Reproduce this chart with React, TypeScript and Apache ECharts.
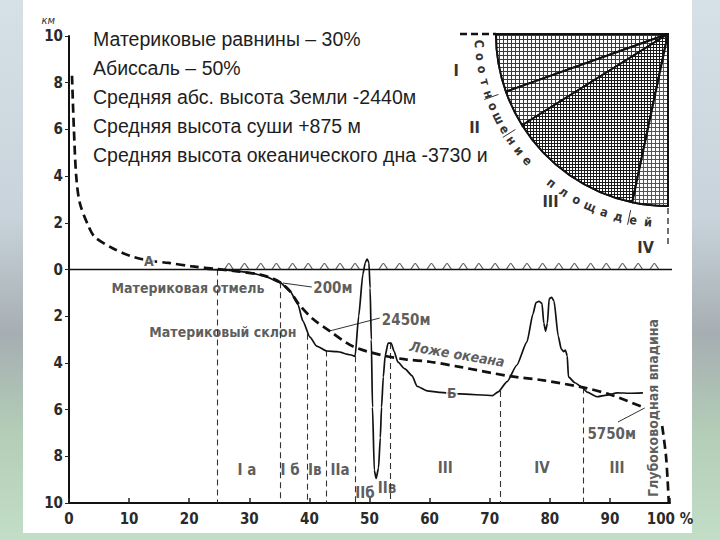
import React, { useEffect, useRef } from "react";
import * as echarts from "echarts";

// ---------- data ----------
const summaryLines = [
  "Материковые равнины – 30%",
  "Абиссаль – 50%",
  "Средняя абс. высота Земли -2440м",
  "Средняя высота суши +875 м",
  "Средняя высота океанического дна -3730 и",
];

// hypsographic (dashed) curve: [% of area, km]
const hypsoCurve: [number, number][] = [
  [0.5, 8.3], [0.8, 6.1], [1.2, 4.0], [1.8, 2.85], [3.3, 1.82], [4.3, 1.39], [7.2, 0.92],
  [10, 0.6], [13.3, 0.38], [16.6, 0.28], [20.6, 0.13], [24.6, 0.02], [28, -0.08],
  [31.8, -0.22], [34, -0.4], [35.5, -0.62], [36.8, -0.94], [38.3, -1.5], [40.5, -2.1],
  [43.4, -2.64], [47.3, -3.3], [52.2, -3.68], [56, -3.85], [60, -3.95], [65, -4.17],
  [72.9, -4.55], [79, -4.75], [85.5, -5.05], [90, -5.35], [95.5, -5.9],
];
const trenchCurve: [number, number][] = [[98.7, -6.7], [99.3, -7.9], [99.6, -9.0], [99.8, -10]];

// real bottom profile (solid)
const profileCurve: [number, number][] = [
  [23, 0], [26, -0.02], [28, -0.07], [30, -0.13], [32.5, -0.28], [35.1, -0.55], [36.8, -0.94],
  [38.1, -1.5], [38.9, -2.2], [40.1, -2.9], [41.2, -3.28], [42.9, -3.49], [44.6, -3.52],
  [46.8, -3.65], [47.6, -3.72], [48.2, -2.0], [48.9, -0.2], [49.3, 0.3], [49.6, 0.45],
  [49.9, 0.3], [50.1, -0.8], [50.3, -3.0], [50.5, -5.9], [50.8, -8.6], [51.1, -8.95],
  [51.5, -8.5], [51.8, -7.2], [52.0, -5.9], [52.3, -4.6], [52.6, -3.7], [53.1, -3.15],
  [53.6, -3.15], [54.1, -3.5], [54.7, -3.96], [55.9, -4.26], [57.1, -4.55], [57.9, -5.0],
  [59.6, -5.2], [61.7, -5.26], [65, -5.33], [70.5, -5.4], [71.4, -5.24], [72.9, -4.8],
  [74.5, -4.1], [76.2, -3.1], [77.2, -1.9], [77.7, -1.42], [78.2, -1.36], [78.7, -1.45],
  [79.0, -2.3], [79.3, -2.64], [79.6, -2.3], [79.9, -1.25], [80.3, -1.19], [80.7, -1.35],
  [81.4, -2.85], [81.9, -3.4], [82.3, -3.52], [82.6, -3.45], [82.9, -3.7], [83.1, -4.6],
  [84.2, -4.85], [85.4, -5.05], [86.2, -5.25], [87.9, -5.45], [89.5, -5.38], [91.2, -5.28],
  [93.3, -5.3], [95.5, -5.28],
];

const dividerX = [24.6, 35.1, 39.6, 42.8, 47.6, 53.4, 71.7, 85.5];
const dividerTop = [0, -0.55, -2.75, -3.47, -3.72, -3.15, -5.2, -5.05];

const zoneLabels = ["I а", "I б", "Iв", "IIа", "IIб", "IIв", "III", "IV", "III"];
const zoneX = [29.6, 36.8, 40.9, 45.1, 49.25, 52.9, 62.6, 78.7, 91.2];
const zoneY = [-8.59, -8.59, -8.59, -8.59, -9.57, -9.36, -8.5, -8.5, -8.5];

const waveX = [
  26.6, 29.2, 31.9, 34.5, 37.2, 39.8, 42.5, 45.1, 47.6, 52.3, 55.0, 57.6, 60.3, 62.9,
  65.6, 68.2, 70.9, 73.5, 76.2, 78.8, 81.5, 84.1, 86.8, 89.4, 92.1, 94.7, 97.4,
];

const areaShares = [21.8, 13.8, 51.1, 13.3];
const areaLabels = ["I", "II", "III", "IV"];
const areaLabelRadius = [215, 215, 205, 215];
const arcWord1 = "Соотношение";
const arcWord2 = "площадей";

const xTickLabels = ["0", "10", "20", "30", "40", "50", "60", "70", "80", "90", "100 %"];

const COND = '"DejaVu Sans Condensed", "Liberation Sans Narrow", "Roboto Condensed", "DejaVu Sans", sans-serif';

export default function App() {
  const ref = useRef<HTMLDivElement>(null);
  useEffect(() => {
    if (!ref.current) return;
    const chart = echarts.init(ref.current, undefined, { renderer: "svg" });

    const cx = 668, cy = 34, R = 172;
    const graphics: any[] = [];
    // white panel
    graphics.push({ type: "rect", z: -10, shape: { x: 23, y: 0, width: 669, height: 533 }, style: { fill: "#ffffff" }, silent: true });
    // summary text
    summaryLines.forEach((t, i) => {
      graphics.push({
        type: "text", x: 93, y: 39 + 29 * i, z: 20,
        style: { text: t, font: '19.5px "Liberation Sans", Arial, sans-serif', fill: "#1e1e1e", textAlign: "left", textVerticalAlign: "middle" },
      });
    });
    // quadrant labels + spoke ticks
    let cum = 0;
    areaShares.forEach((v, i) => {
      const mid = 180 - 0.9 * (cum + v / 2);
      const rad = (mid * Math.PI) / 180;
      const lr = areaLabelRadius[i];
      graphics.push({
        type: "text", x: cx + lr * Math.cos(rad), y: cy + lr * Math.sin(rad), z: 20,
        style: { text: areaLabels[i], font: `bold 16px ${COND}`, fill: "#333", textAlign: "center", textVerticalAlign: "middle" },
      });
      cum += v;
      if (i < areaShares.length - 1) {
        const b = ((180 - 0.9 * cum) * Math.PI) / 180;
        graphics.push({
          type: "line", z: 20,
          shape: { x1: cx + 180 * Math.cos(b), y1: cy + 180 * Math.sin(b), x2: cx + 195 * Math.cos(b), y2: cy + 195 * Math.sin(b) },
          style: { stroke: "#333", lineWidth: 1 },
        });
      }
    });
    // arc text
    const placeChar = (ch: string, deg: number) => {
      const rad = (deg * Math.PI) / 180;
      graphics.push({
        type: "text", x: cx + 189 * Math.cos(rad), y: cy + 189 * Math.sin(rad), rotation: (-(deg - 90) * Math.PI) / 180, z: 20,
        style: { text: ch, font: `bold 12.5px ${COND}`, fill: "#333", textAlign: "center", textVerticalAlign: "middle" },
      });
    };
    Array.from(arcWord1).forEach((ch, i) => placeChar(ch, 177 - 3.9 * i));
    Array.from(arcWord2).forEach((ch, i) => placeChar(ch, 128 - 4.57 * i));
    // dashed extensions of quadrant
    graphics.push({ type: "line", z: 20, shape: { x1: 460, y1: cy, x2: cx - R, y2: cy }, style: { stroke: "#111", lineWidth: 2.5, lineDash: [7, 4] } });
    graphics.push({ type: "line", z: 20, shape: { x1: cx, y1: cy + R + 2, x2: cx, y2: 245 }, style: { stroke: "#111", lineWidth: 1.2, lineDash: [6, 4] } });

    const annot: any[] = [
      { value: [13.3, 0.36], text: "А", size: 14, bg: true },
      { value: [63.7, -5.3], text: "Б", size: 14, bg: true },
      { value: [19.8, -0.79], text: "Материковая отмель", size: 14 },
      { value: [43.9, -0.79], text: "200м", size: 15 },
      { value: [25.6, -2.68], text: "Материковый склон", size: 14 },
      { value: [56.1, -2.16], text: "2450м", size: 15 },
      { value: [64.6, -3.62], text: "Ложе океана", size: 14, rotate: -9.6, italic: true },
      { value: [90.3, -7.04], text: "5750м", size: 15 },
      { value: [97.2, -5.93], text: "Глубоководная впадина", size: 14, rotate: 90 },
      { value: [102, 0], text: "0", size: 15 },
    ];
    zoneLabels.forEach((t, i) => annot.push({ value: [zoneX[i], zoneY[i]], text: t, size: 15 }));

    const option: any = {
      animation: false,
      backgroundColor: "transparent",
      grid: { left: 69, right: 50, top: 36, bottom: 37 },
      xAxis: {
        type: "value", min: 0, max: 100, interval: 10,
        axisLine: { onZero: false, lineStyle: { color: "#111", width: 2 } },
        axisTick: { inside: true, length: 5, lineStyle: { color: "#222", width: 1.5 } },
        axisLabel: { formatter: (v: number) => xTickLabels[Math.round(v / 10)], color: "#2a2a2a", fontSize: 15, fontWeight: "bold", fontFamily: COND, margin: 8 },
        splitLine: { show: false },
      },
      yAxis: {
        type: "value", min: -10, max: 10, interval: 2,
        name: "км", nameLocation: "end", nameGap: 10,
        nameTextStyle: { fontSize: 11, fontStyle: "italic", color: "#333", align: "right", padding: [0, 14, 0, 0], fontFamily: COND },
        axisLine: { lineStyle: { color: "#111", width: 2 } },
        axisTick: { length: 4, lineStyle: { color: "#222" } },
        axisLabel: { formatter: (v: number) => String(Math.abs(v)), color: "#2a2a2a", fontSize: 15, fontWeight: "bold", fontFamily: COND, margin: 6 },
        splitLine: { show: false },
      },
      graphic: graphics,
      series: [
        {
          type: "line", name: "sea", data: [[0, 0], [100.6, 0]], showSymbol: false, clip: false, silent: true,
          lineStyle: { color: "#111", width: 1.5 }, z: 3,
        },
        {
          type: "scatter", name: "waves", data: waveX.map((x) => [x, 0]), silent: true,
          symbol: "path://M0,10 L4,2.5 Q5,0.5 6,2.5 L10,10", symbolSize: [9, 6], symbolOffset: [0, -3],
          itemStyle: { color: "rgba(0,0,0,0)", borderColor: "#333", borderWidth: 1 }, z: 3,
        },
        {
          type: "lines", coordinateSystem: "cartesian2d", silent: true,
          data: dividerX.map((x, i) => ({ coords: [[x, dividerTop[i]], [x, -10]] })),
          lineStyle: { color: "#333", width: 1.1, type: [6, 4], opacity: 1 }, z: 2,
        },
        {
          type: "line", name: "profile", data: profileCurve, showSymbol: false, smooth: 0.2, smoothMonotone: "x", silent: true,
          lineStyle: { color: "#111", width: 1.7 }, z: 4,
        },
        {
          type: "line", name: "hypso", data: hypsoCurve, showSymbol: false, smooth: 0.3, silent: true,
          lineStyle: { color: "#111", width: 2.7, type: [9, 5] }, z: 5,
        },
        {
          type: "line", name: "trench", data: trenchCurve, showSymbol: false, smooth: 0.3, silent: true,
          lineStyle: { color: "#111", width: 2.7, type: [9, 5] }, z: 5,
        },
        {
          type: "lines", coordinateSystem: "cartesian2d", silent: true,
          data: [
            { coords: [[35.6, -0.58], [40.4, -0.75]] },
            { coords: [[43.4, -2.63], [51.7, -2.08]] },
            { coords: [[91.35, -6.53], [95.8, -5.93]] },
          ],
          lineStyle: { color: "#333", width: 1, opacity: 1 }, z: 4,
        },
        {
          type: "scatter", name: "annot", symbolSize: 0, silent: true, z: 6,
          itemStyle: { color: "#333" },
          data: annot.map((a) => ({
            value: a.value,
            label: {
              show: true, position: "inside", formatter: a.text, rotate: a.rotate || 0,
              fontSize: a.size, fontWeight: "bold", fontStyle: a.italic ? "italic" : "normal", color: "#333", fontFamily: COND,
              textBorderWidth: 0, textBorderColor: "transparent",
              backgroundColor: a.bg ? "#ffffff" : "transparent", padding: a.bg ? [0, 1] : 0,
            },
          })),
        },
        {
          type: "pie", center: [cx, cy], radius: [0, R], startAngle: 180, clockwise: false, silent: true,
          label: { show: false }, labelLine: { show: false }, z: 1,
          data: [
            { value: areaShares[0], itemStyle: { color: "#3a3a3a", borderColor: "#111", borderWidth: 2, decal: { symbol: "rect", symbolSize: 1, dashArrayX: [2.2, 0.9], dashArrayY: [2.2, 0.9], color: "#ffffff" } } },
            { value: areaShares[1], itemStyle: { color: "#3a3a3a", borderColor: "#111", borderWidth: 2, decal: { symbol: "rect", symbolSize: 1, dashArrayX: [2.2, 0.9], dashArrayY: [2.2, 0.9], color: "#ffffff" } } },
            { value: areaShares[2], itemStyle: { color: "#1a1a1a", borderColor: "#111", borderWidth: 2, decal: { symbol: "rect", symbolSize: 1, dashArrayX: [1.7, 1.0], dashArrayY: [1.7, 1.0], color: "#ffffff" } } },
            { value: areaShares[3], itemStyle: { color: "#555", borderColor: "#111", borderWidth: 2, decal: { symbol: "rect", symbolSize: 1, dashArrayX: [2.4, 0.7], dashArrayY: [2.4, 0.7], color: "#ffffff" } } },
            { value: 300, itemStyle: { color: "rgba(0,0,0,0)", borderWidth: 0 } },
          ],
        },
      ],
    };
    chart.setOption(option);
    return () => chart.dispose();
  }, []);

  return (
    <div
      style={{
        position: "fixed", left: 0, top: 0, width: 720, height: 540,
        background: "linear-gradient(to bottom, #d6e0e7 0%, #c8d3db 40%, #a6aeb2 62%, #b3cdb7 80%, #c3dec7 100%)",
      }}
    >
      <div ref={ref} style={{ width: 720, height: 540 }} />
    </div>
  );
}
